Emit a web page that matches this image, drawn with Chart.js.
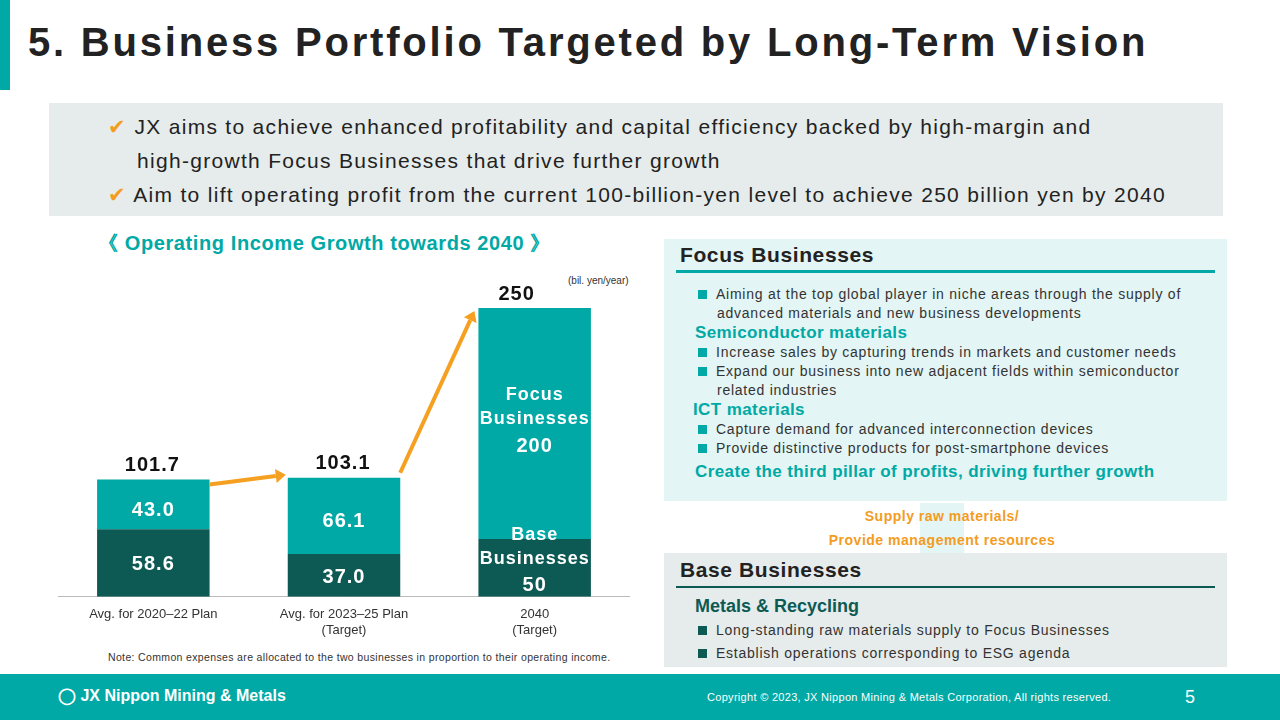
<!DOCTYPE html>
<html><head><meta charset="utf-8">
<script src="https://cdn.jsdelivr.net/npm/chart.js@4"></script>
<style>
body{margin:0;width:1280px;height:720px;position:relative;font-family:Arial,"Liberation Sans",sans-serif;background:#fff;overflow:hidden;color:#222}
.a{position:absolute}
.sq{display:inline-block;width:9px;height:9px;background:#00a9a5;margin-right:9px}
.dsq{display:inline-block;width:9px;height:9px;background:#0d5a55;margin-right:9px}
.li{font-size:14px;color:#333;line-height:19px;letter-spacing:0.75px}
.sub{color:#00a9a5;font-weight:bold;font-size:17px;letter-spacing:0.4px}
</style></head><body>
<div class="a" style="left:0;top:0;width:10px;height:90px;background:#00a9a5"></div>
<div class="a" style="left:28px;top:20px;font-size:40px;font-weight:bold;color:#222;letter-spacing:2.8px">5. Business Portfolio Targeted by Long-Term Vision</div>
<div class="a" style="left:49px;top:103px;width:1174px;height:113px;background:#e6eceb"></div>
<div class="a" style="left:108px;top:110px;font-size:21px;line-height:34px;color:#222;letter-spacing:1.3px">
<div><span style="color:#f39c1f">&#10004;</span> JX aims to achieve enhanced profitability and capital efficiency backed by high-margin and</div>
<div style="padding-left:29px">high-growth Focus Businesses that drive further growth</div>
<div><span style="color:#f39c1f">&#10004;</span> Aim to lift operating profit from the current 100-billion-yen level to achieve 250 billion yen by 2040</div></div>
<div class="a" style="left:98px;top:230px;font-size:20px;font-weight:bold;color:#00a9a5;letter-spacing:0.6px">《 Operating Income Growth towards 2040 》</div>
<div class="a" style="left:568px;top:275px;font-size:10px;color:#333">(bil. yen/year)</div>
<div class="a" style="left:58px;top:270px;width:572px;height:378px"><canvas id="chartIncome"></canvas></div>
<div class="a" style="left:108px;top:651px;font-size:10.5px;color:#333;letter-spacing:0.35px">Note: Common expenses are allocated to the two businesses in proportion to their operating income.</div>

<div class="a" style="left:664px;top:239px;width:563px;height:262px;background:#e3f5f4"></div>
<div class="a" style="left:680px;top:243px;font-size:21px;font-weight:bold;letter-spacing:0.6px">Focus Businesses</div>
<div class="a" style="left:676px;top:270px;width:539px;height:3px;background:#00a9a5"></div>
<div class="a" style="left:698px;top:285px;width:525px">
<div class="li"><span class="sq"></span>Aiming at the top global player in niche areas through the supply of<br><span style="padding-left:19px">advanced materials and new business developments</span></div>
<div class="sub" style="margin-left:-3px">Semiconductor materials</div>
<div class="li"><span class="sq"></span>Increase sales by capturing trends in markets and customer needs</div>
<div class="li"><span class="sq"></span>Expand our business into new adjacent fields within semiconductor<br><span style="padding-left:19px">related industries</span></div>
<div class="sub" style="margin-left:-5px">ICT materials</div>
<div class="li"><span class="sq"></span>Capture demand for advanced interconnection devices</div>
<div class="li"><span class="sq"></span>Provide distinctive products for post-smartphone devices</div>
<div class="sub" style="margin-left:-3px;margin-top:4px">Create the third pillar of profits, driving further growth</div></div>
<div class="a" style="left:920px;top:503px;width:44px;height:50px;background:#e3f5f4"></div>
<div class="a" style="left:790px;top:504px;width:304px;text-align:center;font-size:14px;font-weight:bold;color:#f39c1f;line-height:24px;letter-spacing:0.5px">Supply raw materials/<br>Provide management resources</div>
<div class="a" style="left:664px;top:553px;width:563px;height:114px;background:#e6eceb"></div>
<div class="a" style="left:680px;top:558px;font-size:21px;font-weight:bold;letter-spacing:0.6px">Base Businesses</div>
<div class="a" style="left:676px;top:586px;width:539px;height:2px;background:#0d5a55"></div>
<div class="a" style="left:695px;top:596px;font-size:18px;font-weight:bold;color:#0d5a55">Metals &amp; Recycling</div>
<div class="a" style="left:698px;top:619px">
<div class="li" style="line-height:23px"><span class="dsq"></span>Long-standing raw materials supply to Focus Businesses</div>
<div class="li" style="line-height:23px"><span class="dsq"></span>Establish operations corresponding to ESG agenda</div></div>

<div class="a" style="left:0;top:674px;width:1280px;height:46px;background:#00a9a5"></div>
<div class="a" style="left:58px;top:686px;font-size:16px;font-weight:bold;color:#fff">&#9711; JX Nippon Mining &amp; Metals</div>
<div class="a" style="left:707px;top:691px;font-size:11px;color:#fff;letter-spacing:0.3px">Copyright © 2023, JX Nippon Mining &amp; Metals Corporation, All rights reserved.</div>
<div class="a" style="left:1185px;top:687px;font-size:18px;color:#fff">5</div>
<script>
var incomeData = {
    labels: [['Avg. for 2020\u201322 Plan'], ['Avg. for 2023\u201325 Plan', '(Target)'], ['2040', '(Target)']],
    base: [58.6, 37.0, 50],
    focus: [43.0, 66.1, 200],
    totals: ['101.7', '103.1', '250']
};

var labelPlugin = {
    id: 'labelPlugin',
    afterDatasetsDraw: function(chart) {
        var ctx = chart.ctx;
        var base = chart.getDatasetMeta(0).data;
        var focus = chart.getDatasetMeta(1).data;
        ctx.save();
        ctx.letterSpacing = '1px';
        ctx.fillStyle = '#fff';
        ctx.textAlign = 'center';
        ctx.textBaseline = 'middle';
        ctx.font = 'bold 20px Arial';
        for (var i = 0; i < 2; i++) {
            ctx.fillText(incomeData.base[i].toFixed(1), base[i].x, (base[i].y + base[i].base) / 2 + 2);
            ctx.fillText(incomeData.focus[i].toFixed(1), focus[i].x, (focus[i].y + focus[i].base) / 2 + 6);
        }
        ctx.font = 'bold 18px Arial';
        ctx.fillText('Base', base[2].x, base[2].y - 4);
        ctx.fillText('Businesses', base[2].x, base[2].y + 20);
        ctx.font = 'bold 20px Arial';
        ctx.fillText('50', base[2].x, base[2].y + 46);
        ctx.font = 'bold 18px Arial';
        ctx.fillText('Focus', focus[2].x, focus[2].y + 87);
        ctx.fillText('Businesses', focus[2].x, focus[2].y + 111);
        ctx.font = 'bold 20px Arial';
        ctx.fillText('200', focus[2].x, focus[2].y + 138);
        // totals
        ctx.fillStyle = '#111';
        for (var j = 0; j < 3; j++) {
            ctx.fillText(incomeData.totals[j], focus[j].x + (j == 2 ? -18 : -1), focus[j].y - 14);
        }
        // arrows
        var w = focus[0].width / 2;
        ctx.strokeStyle = '#f5a020';
        ctx.fillStyle = '#f5a020';
        ctx.lineWidth = 4;
        var arrows = [
            [focus[0].x + w, focus[0].y + 5, focus[1].x - w - 2, focus[1].y - 3],
            [focus[1].x + w, focus[1].y - 5, focus[2].x - w - 4, focus[2].y + 3]
        ];
        arrows.forEach(function(a) {
            var ang = Math.atan2(a[3] - a[1], a[2] - a[0]);
            var ex = a[2] - 10 * Math.cos(ang), ey = a[3] - 10 * Math.sin(ang);
            ctx.beginPath();
            ctx.moveTo(a[0], a[1]);
            ctx.lineTo(ex, ey);
            ctx.stroke();
            ctx.beginPath();
            ctx.moveTo(a[2], a[3]);
            ctx.lineTo(ex + 7 * Math.sin(ang), ey - 7 * Math.cos(ang));
            ctx.lineTo(ex - 7 * Math.sin(ang), ey + 7 * Math.cos(ang));
            ctx.closePath();
            ctx.fill();
        });
        ctx.restore();
    }
};

var config = {
    type: 'bar',
    plugins: [labelPlugin],
    data: {
        labels: incomeData.labels,
        datasets: [
            { label: 'Base', data: incomeData.base, backgroundColor: '#0d5a55', barPercentage: 0.59, categoryPercentage: 1 },
            { label: 'Focus', data: incomeData.focus, backgroundColor: '#00a9a5', barPercentage: 0.59, categoryPercentage: 1 }
        ]
    },
    options: {
        responsive: true,
        maintainAspectRatio: false,
        animation: false,
        plugins: { legend: { display: false }, tooltip: { enabled: false } },
        scales: {
            x: {
                stacked: true,
                grid: { display: false, drawTicks: false },
                border: { color: '#bbb' },
                ticks: { color: '#333', font: { size: 13, family: 'Arial' }, padding: 10 }
            },
            y: { stacked: true, display: false, min: 0, max: 283 }
        }
    }
};

new Chart(document.getElementById('chartIncome'), config);
</script>
</body></html>
